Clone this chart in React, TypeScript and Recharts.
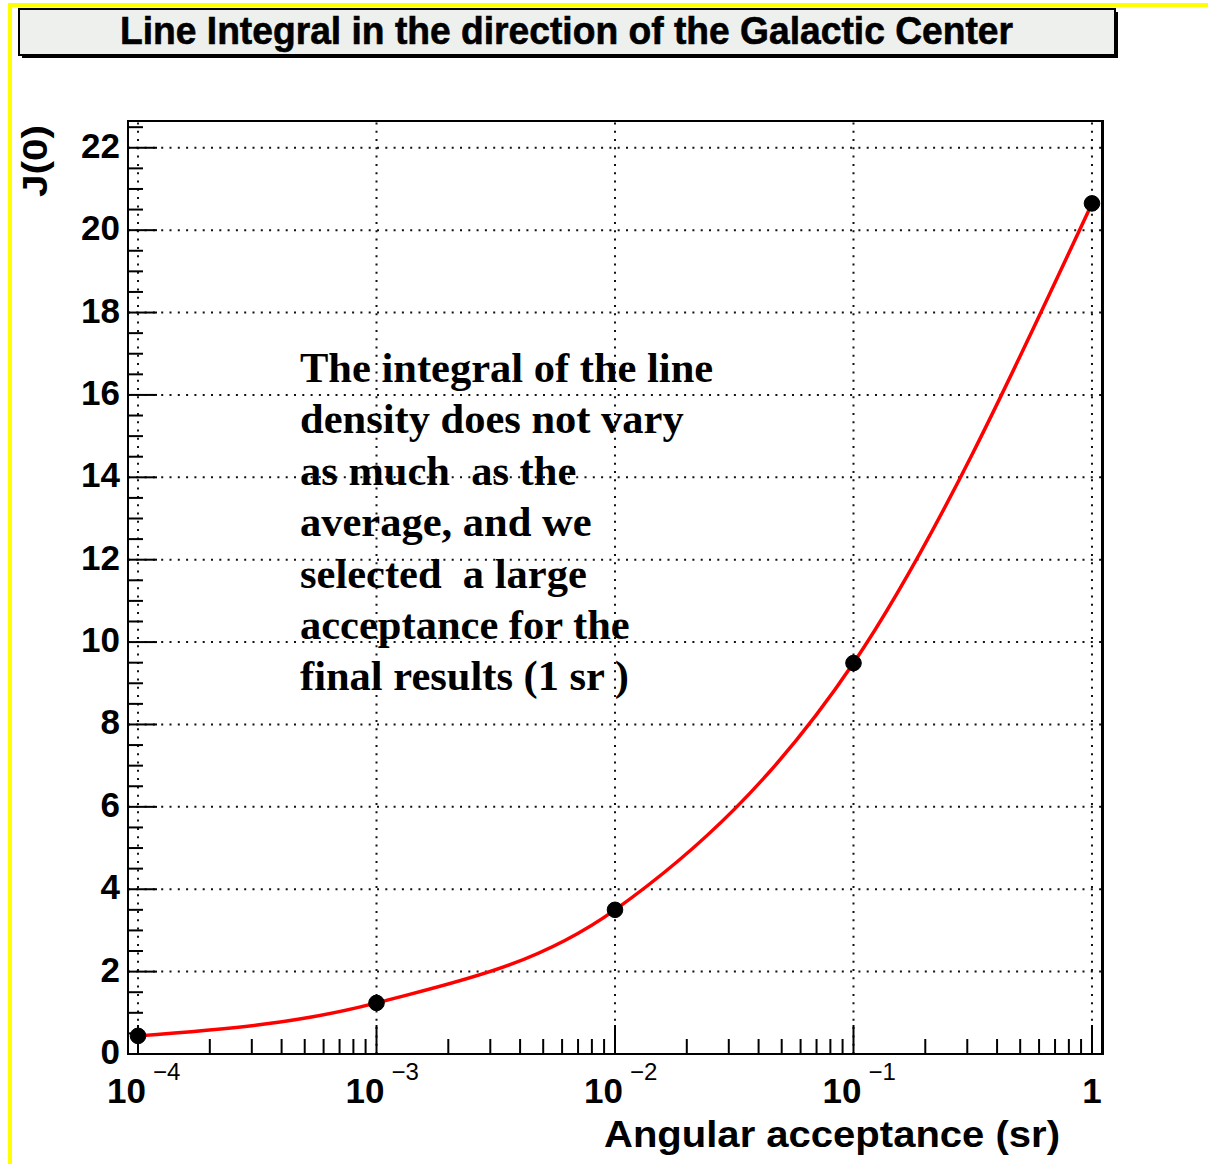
import React from 'react';
import { LineChart, Line, XAxis, YAxis, ReferenceLine } from 'recharts';

// measured points (acceptance in sr, J(0))
const acceptance = [1e-4, 1e-3, 1e-2, 1e-1, 1];
const lineIntegral = [0.44, 1.24, 3.5, 9.49, 20.65];

const xDecades = [1e-4, 1e-3, 1e-2, 1e-1, 1];
const xExponents = ['-4', '-3', '-2', '-1', ''];
const xMinorSteps = [2, 3, 4, 5, 6, 7, 8, 9];
const yMajorTicks = [0, 2, 4, 6, 8, 10, 12, 14, 16, 18, 20, 22];
const yMinorStep = 0.5;

const noteLines = [
  'The integral of the line',
  'density does not vary',
  'as much  as the',
  'average, and we',
  'selected  a large',
  'acceptance for the',
  'final results (1 sr )',
];

const X_MIN = Math.pow(10, -4.042);
const X_MAX = Math.pow(10, 0.042);
const Y_MAX = 22.65;

const data = acceptance.map((a, i) => ({ a, j: lineIntegral[i] }));

const xTicks = [
  ...xDecades,
  ...xDecades.slice(0, -1).flatMap((d) => xMinorSteps.map((s) => d * s)),
].sort((p, q) => p - q);

const yTicks: number[] = [];
for (let v = 0; v <= 22.5; v += yMinorStep) yTicks.push(v);

const FONT = '"Liberation Sans", Arial, Helvetica, sans-serif';

const XTick = (props: any) => {
  const { x, y, payload } = props;
  const v = payload.value;
  const idx = xDecades.findIndex((d) => Math.abs(d - v) / d < 1e-6);
  const major = idx >= 0;
  return (
    <g>
      <line x1={x} x2={x} y1={y} y2={y - (major ? 29 : 15)} stroke="#000" strokeWidth={2} />
      {major && xExponents[idx] === '' && (
        <text x={x} y={y + 49} textAnchor="middle" fontFamily={FONT} fontWeight="bold" fontSize={35} fill="#000">
          1
        </text>
      )}
      {major && xExponents[idx] !== '' && (
        <g>
          <text x={x + 8} y={y + 49} textAnchor="end" fontFamily={FONT} fontWeight="bold" fontSize={35} fill="#000">
            10
          </text>
          <text x={x + 15} y={y + 26} textAnchor="start" fontFamily={FONT} fontSize={24} fill="#000">
            {xExponents[idx].replace('-', '\u2212')}
          </text>
        </g>
      )}
    </g>
  );
};

const YTick = (props: any) => {
  const { x, y, payload } = props;
  const v = payload.value;
  const major = yMajorTicks.includes(v);
  return (
    <g>
      <line x1={x} x2={x + (major ? 29 : 15)} y1={y} y2={y} stroke="#000" strokeWidth={2} />
      {major && (
        <text x={x - 8} y={y + 10} textAnchor="end" fontFamily={FONT} fontWeight="bold" fontSize={35} fill="#000">
          {v}
        </text>
      )}
    </g>
  );
};

export default function App() {
  return (
    <div style={{ position: 'absolute', left: 0, top: 0, width: 1208, height: 1164, background: '#fff', overflow: 'hidden' }}>
      <LineChart width={1208} height={1164} data={data} margin={{ top: 121, right: 106, bottom: 10, left: 28 }}>
        <XAxis
          dataKey="a"
          type="number"
          scale="log"
          domain={[X_MIN, X_MAX]}
          allowDataOverflow
          ticks={xTicks}
          interval={0}
          height={100}
          tickSize={0}
          tickMargin={0}
          tickLine={false}
          axisLine={{ stroke: '#000', strokeWidth: 2 }}
          tick={(p: any) => <XTick {...p} />}
        />
        <YAxis
          type="number"
          domain={[0, Y_MAX]}
          allowDataOverflow
          ticks={yTicks}
          interval={0}
          width={100}
          tickSize={0}
          tickMargin={0}
          tickLine={false}
          axisLine={{ stroke: '#000', strokeWidth: 2 }}
          tick={(p: any) => <YTick {...p} />}
        />
        {xDecades.map((d) => (
          <ReferenceLine key={'vx' + d} x={d} stroke="#111" strokeWidth={2} strokeDasharray="2 6.3" />
        ))}
        {yMajorTicks.slice(1).map((v) => (
          <ReferenceLine key={'hy' + v} y={v} stroke="#111" strokeWidth={2} strokeDasharray="2 6.3" />
        ))}
        <Line
          dataKey="j"
          type="monotoneX"
          stroke="#ff0000"
          strokeWidth={3.5}
          dot={{ r: 7.8, fill: '#000', stroke: '#000', strokeWidth: 1 }}
          isAnimationActive={false}
        />
      </LineChart>

      <svg width={1208} height={1164} style={{ position: 'absolute', left: 0, top: 0, pointerEvents: 'none' }}>
        {/* page border */}
        <rect x={8} y={3} width={4} height={1161} fill="#ffff00" />
        <rect x={8} y={3} width={1200} height={4} fill="#ffff00" />

        {/* title box */}
        <rect x={22} y={12} width={1096} height={46} fill="#000" />
        <rect x={19} y={9} width={1096} height={46} fill="#eef0ee" stroke="#000" strokeWidth={2} />
        <text
          x={120}
          y={44}
          fontFamily={FONT}
          fontWeight="bold"
          fontSize={39}
          textLength={893}
          lengthAdjust="spacingAndGlyphs"
          fill="#000"
          stroke="#000"
          strokeWidth={0.6}
        >
          Line Integral in the direction of the Galactic Center
        </text>

        {/* frame */}
        <rect x={128} y={121} width={974} height={933} fill="none" stroke="#000" strokeWidth={2} />
        <line x1={1103.5} x2={1103.5} y1={120} y2={1055} stroke="#000" strokeWidth={1} />

        {/* axis titles */}
        <text
          transform="translate(47,161) rotate(-90)"
          textAnchor="middle"
          fontFamily={FONT}
          fontWeight="bold"
          fontSize={35}
          textLength={72}
          lengthAdjust="spacingAndGlyphs"
          fill="#000"
        >
          J(0)
        </text>
        <text
          x={604}
          y={1147}
          fontFamily={FONT}
          fontWeight="bold"
          fontSize={36}
          textLength={456}
          lengthAdjust="spacingAndGlyphs"
          fill="#000"
        >
          Angular acceptance (sr)
        </text>

        {/* note */}
        {noteLines.map((t, i) => (
          <text
            key={i}
            x={300}
            y={382 + i * 51.4}
            fontFamily='"Liberation Serif", "Times New Roman", serif'
            fontWeight="bold"
            fontSize={42.5}
            fill="#000"
            style={{ whiteSpace: 'pre' }}
          >
            {t}
          </text>
        ))}
      </svg>
    </div>
  );
}
